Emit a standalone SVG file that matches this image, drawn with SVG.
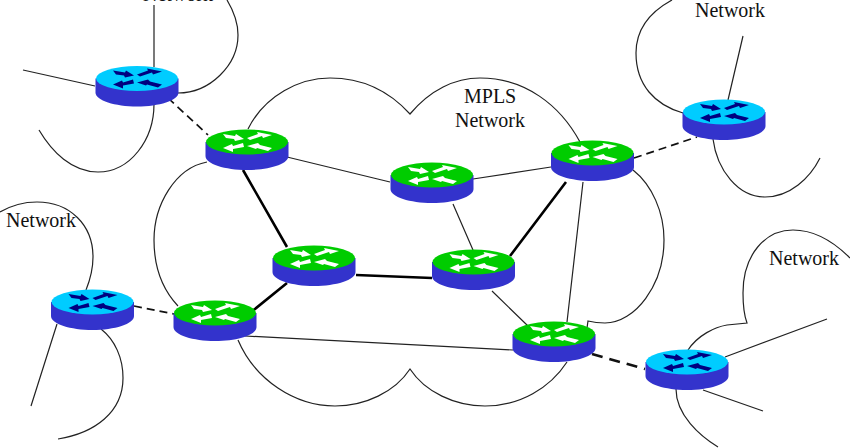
<svg xmlns="http://www.w3.org/2000/svg" width="850" height="448" viewBox="0 0 850 448">
<style>
.bg{fill:#fff}
.thin{fill:none;stroke:#222;stroke-width:1.2}
.thick{fill:none;stroke:#000;stroke-width:2.6}
.dash{fill:none;stroke:#111;stroke-width:1.7;stroke-dasharray:8 5}
.dash2{fill:none;stroke:#111;stroke-width:2.6;stroke-dasharray:11 7}
.body{fill:#3333cc}
text{font-family:"Liberation Serif","Times New Roman",serif;font-size:20px;fill:#111}
</style>
<defs>
<g id="body"><path class="body" d="M-41.500,0V14C-41.500,22 -22,28 0,28C22,28 41.500,22 41.500,14V0Z"/></g>
<g id="arrows"><polygon points="-24,-8 -12,-6 -11,-8 -3,-3 -12,-1 -13,-3 -21,-4"/><polygon points="0,-4 11,-8 10,-10 25,-7 16,-4 15,-6 3,-2"/><polygon points="-4,1 -14,4 -15,2 -24,6 -14,10 -14,7 -3,5"/><polygon points="25,6 13,3 11,1 0,4 9,7 10,6 21,9"/></g>
<g id="green"><use href="#body"/><ellipse rx="41" ry="12.500" fill="#00cc00"/><use href="#arrows" fill="#fff"/></g>
<g id="blue"><use href="#body"/><ellipse rx="41" ry="12.500" fill="#00ccff"/><use href="#arrows" fill="#000080"/></g>
</defs>
<rect class="bg" width="850" height="448"/>
<g id="connectors">
<path class="thin" d="M248,129C265,95 300,78 330,78C365,78 390,92 410,114C430,90 455,78 480,78C525,78 560,105 580,142"/>
<path class="thin" d="M238,340C255,380 295,406 335,406C365,406 395,392 410,369C425,392 455,406 485,406C520,406 550,388 567,362"/>
<path class="thin" d="M633,170C652,185 664,212 664,240C664,285 635,323 605,323C597,323 592,322 588,321L587,328"/>
<path class="thin" d="M207,162C175,168 154,205 154,240C154,268 163,290 178,306"/>
<path class="thin" d="M672,0C650,12 636,30 636,53C636,85 655,105 683,113"/>
<path class="thin" d="M713,139C717,170 738,197 765,197C790,197 810,178 820,158"/>
<path class="thin" d="M688,350C698,335 715,327 727,325L747,323C744,315 743,305 743,293C743,255 765,230 793,230C815,230 835,243 850,258"/>
<path class="thin" d="M676,389C676,415 700,436 718,447"/>
<path class="thin" d="M0,212C12,205 25,202 37,202C70,202 93,225 93,257C93,270 90,280 86,290"/>
<path class="thin" d="M101,329C115,340 123,358 123,378C123,412 95,433 58,439"/>
<path class="thin" d="M227,0C233,10 238,22 238,35C238,65 210,93 178,93"/>
<path class="thin" d="M154,104C154,140 130,172 98,172C72,172 52,152 39,130"/>
<path class="thin" d="M154,5V67M23,70L95,86M743,36L728,100M725,357L827,319M703,390L763,411M57,324L31,406"/>
<path class="thin" d="M287,157L390,182M473,179L551,167M453,204L473,250M492,291L528,326M583,182L567,322M245,336L513,350"/>
<path class="thick" d="M243,170L287,247M356,275L432,278M287,283L250,313M510,256L566,182"/>
<path class="dash" d="M168,98L208,135M634,158L697,137M134,306L174,314"/>
<path class="dash2" d="M592,354L645,369"/>
</g>
<g id="r-blue-tl" transform="translate(137,78.500)"><use href="#blue"/></g>
<g id="r-a" transform="translate(247,142)"><use href="#green"/></g>
<g id="r-b" transform="translate(432,175)"><use href="#green"/></g>
<g id="r-c" transform="translate(592.500,153)"><use href="#green"/></g>
<g id="r-d" transform="translate(314,258)"><use href="#green"/></g>
<g id="r-e" transform="translate(473.500,262)"><use href="#green"/></g>
<g id="r-f" transform="translate(215,313)"><use href="#green"/></g>
<g id="r-g" transform="translate(554,334)"><use href="#green"/></g>
<g id="r-blue-l" transform="translate(92.500,302)"><use href="#blue"/></g>
<g id="r-blue-r" transform="translate(724,112)"><use href="#blue"/></g>
<g id="r-blue-br" transform="translate(687,362)"><use href="#blue"/></g>
<g id="labels">
<text x="143" y="1">Network</text>
<text x="695" y="17">Network</text>
<text x="769" y="265">Network</text>
<text x="6" y="227">Network</text>
<text x="464" y="103">MPLS</text>
<text x="455" y="127">Network</text>
</g>
</svg>
